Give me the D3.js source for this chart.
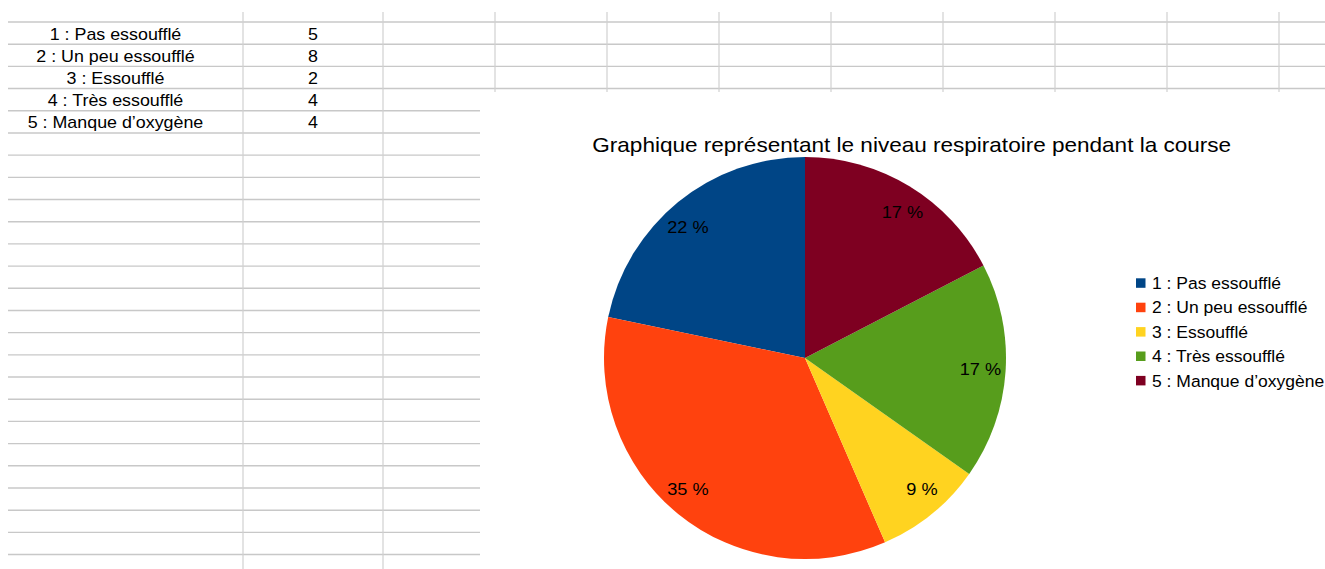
<!DOCTYPE html>
<html><head><meta charset="utf-8">
<script src="https://cdn.jsdelivr.net/npm/d3@7"></script>
<style>
html,body{margin:0;padding:0;background:#fff;}
svg{display:block;font-family:"Liberation Sans",Arial,sans-serif;}
</style></head>
<body>
<svg id="c" width="1325" height="569"></svg>
<script>
const categories = ["1 : Pas essoufflé","2 : Un peu essoufflé","3 : Essoufflé","4 : Très essoufflé","5 : Manque d’oxygène"];
const values = [5, 8, 2, 4, 4];
const colors = ["#004586","#ff420e","#ffd320","#579d1c","#7e0021"];
const title = "Graphique représentant le niveau respiratoire pendant la course";

const svg = d3.select("#c");

// helper: text with horizontal stretch
function stext(parent, x, y, sx, size, str, anchor, baseline) {
  const t = parent.append("text")
    .attr("transform", `translate(${x},${y}) scale(${sx},1)`)
    .attr("font-size", size).attr("fill", "#000")
    .attr("text-anchor", anchor || "start")
    .text(str);
  if (baseline) t.attr("dominant-baseline", baseline);
  return t;
}

// ---- spreadsheet grid ----
const grid = svg.append("g");
const rowH = 22.19, firstRow = 22;
const nRows = 25;
const colX = [243, 383];
const topCols = d3.range(0, 8).map(i => 495 + i * 112);
for (let i = 0; i < nRows; i++) {
  const y = firstRow + i * rowH;
  if (y > 569) break;
  const x2 = i <= 3 ? 1325 : 480;
  grid.append("line").attr("x1", 8).attr("x2", x2).attr("y1", y).attr("y2", y)
    .attr("stroke", "#c8c8c8").attr("stroke-width", 1.4);
}
colX.forEach(x => grid.append("line").attr("x1", x).attr("x2", x).attr("y1", 12).attr("y2", 569)
  .attr("stroke", "#d0d0d0").attr("stroke-width", 1.2));
topCols.forEach(x => grid.append("line").attr("x1", x).attr("x2", x).attr("y1", 12).attr("y2", 92)
  .attr("stroke", "#d0d0d0").attr("stroke-width", 1.2));

// table text
const tbl = svg.append("g");
categories.forEach((c, i) => {
  const yb = firstRow + (i + 1) * rowH - 4.5;
  stext(tbl, 115.5, yb, 1.05, 17, c, "middle");
  stext(tbl, 313, yb, 1.05, 17, values[i], "middle");
});

// ---- chart ----
const cx = 805, cy = 358, R = 201;
stext(svg, 911.7, 152.3, 1.1, 20.5, title, "middle");

const total = d3.sum(values);
const pie = d3.pie().sort(null).startAngle(0).endAngle(-2 * Math.PI);
const arcs = pie(values);
const arc = d3.arc().innerRadius(0).outerRadius(R);
const g = svg.append("g").attr("transform", `translate(${cx},${cy})`);
g.selectAll("path").data(arcs).enter().append("path")
  .attr("d", arc).attr("fill", (d, i) => colors[i]);

const fmt = v => Math.round(v / total * 100) + " %";
const Rl = 175.7, k = 0.047;
arcs.forEach(d => {
  let m = (d.startAngle + d.endAngle) / 2;
  m = m + k * Math.sin(2 * m);
  stext(g, Rl * Math.sin(m), -Rl * Math.cos(m), 1.07, 17, fmt(d.data), "middle", "central");
});

// legend
const lg = svg.append("g").attr("transform", "translate(1136,283)");
categories.forEach((c, i) => {
  const y = i * 24.4;
  lg.append("rect").attr("x", 0).attr("y", y - 4.7).attr("width", 9.5).attr("height", 9.5).attr("fill", colors[i]);
  stext(lg, 16, y, 1.03, 17, c, "start", "central");
});
</script>
</body></html>
